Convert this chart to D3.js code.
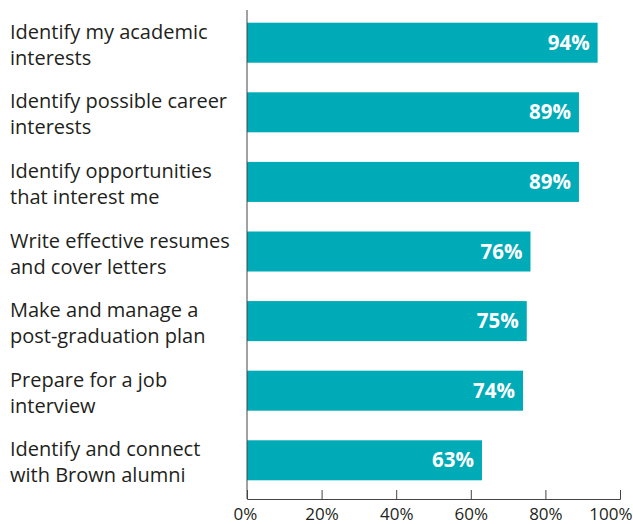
<!DOCTYPE html>
<html>
<head>
<meta charset="utf-8">
<script src="https://cdn.jsdelivr.net/npm/d3@7"></script>
<style>
  body { margin: 0; background: #fff; }
  svg { display: block; }
  text { font-family: "Open Sans", sans-serif; }
</style>
</head>
<body>
<svg id="chart"></svg>
<script>
const width = 633;
const height = 524;

// Chart data
const labels = [
    ["Identify my academic", "interests"],
    ["Identify possible career", "interests"],
    ["Identify opportunities", "that interest me"],
    ["Write effective resumes", "and cover letters"],
    ["Make and manage a", "post-graduation plan"],
    ["Prepare for a job", "interview"],
    ["Identify and connect", "with Brown alumni"]
];
const values = [94, 89, 89, 76, 75, 74, 63];
const ticks = [0, 20, 40, 60, 80, 100];

const svg = d3.select("#chart")
    .attr("width", width)
    .attr("height", height);

const x = d3.scaleLinear().domain([0, 100]).range([247, 620]);
const y = d3.scaleBand()
    .domain(d3.range(values.length))
    .range([6, 497])
    .paddingInner(0.425)
    .paddingOuter(0.24);

// Bars
svg.selectAll(".bar")
    .data(values)
    .enter().append("rect")
    .attr("class", "bar")
    .attr("x", x(0))
    .attr("y", (d, i) => y(i))
    .attr("width", d => x(d) - x(0))
    .attr("height", y.bandwidth())
    .attr("fill", "#00abb8");

// Value labels inside bars
svg.selectAll(".val")
    .data(values)
    .enter().append("text")
    .attr("class", "val")
    .attr("x", d => x(d) - 8)
    .attr("y", (d, i) => y(i) + y.bandwidth() / 2 + 7)
    .attr("text-anchor", "end")
    .attr("fill", "#fff")
    .attr("font-size", 20.5)
    .attr("font-weight", "bold")
    .text(d => d + "%");

// Category labels (two lines each)
const lab = svg.selectAll(".lab")
    .data(labels)
    .enter().append("text")
    .attr("class", "lab")
    .attr("x", 10)
    .attr("fill", "#231f20")
    .attr("font-size", 20);

lab.selectAll("tspan")
    .data((d, i) => d.map((t, j) => ({ t, j, i })))
    .enter().append("tspan")
    .attr("x", 10)
    .attr("y", d => y(d.i) + y.bandwidth() / 2 - 4 + d.j * 26)
    .text(d => d.t);

// Axes
const xAxis = d3.axisBottom(x)
    .tickValues(ticks)
    .tickSize(-9)
    .tickFormat(d => d + "%");

const gx = svg.append("g")
    .attr("transform", "translate(0,499)")
    .call(xAxis);
gx.select(".domain").attr("stroke", "#444");
gx.selectAll(".tick line").attr("stroke", "#444");
gx.selectAll(".tick text")
    .attr("y", 9)
    .attr("dy", "0.71em")
    .attr("fill", "#231f20")
    .attr("font-size", 17)
    .style("font-family", "'Open Sans', sans-serif");
gx.selectAll(".tick text").filter(d => d === 0)
    .attr("dx", -2);
gx.selectAll(".tick text").filter(d => d === 100)
    .attr("text-anchor", "end")
    .attr("dx", 12);

svg.append("line")
    .attr("x1", x(0)).attr("x2", x(0))
    .attr("y1", 10).attr("y2", 499)
    .attr("stroke", "#444");
</script>
</body>
</html>
